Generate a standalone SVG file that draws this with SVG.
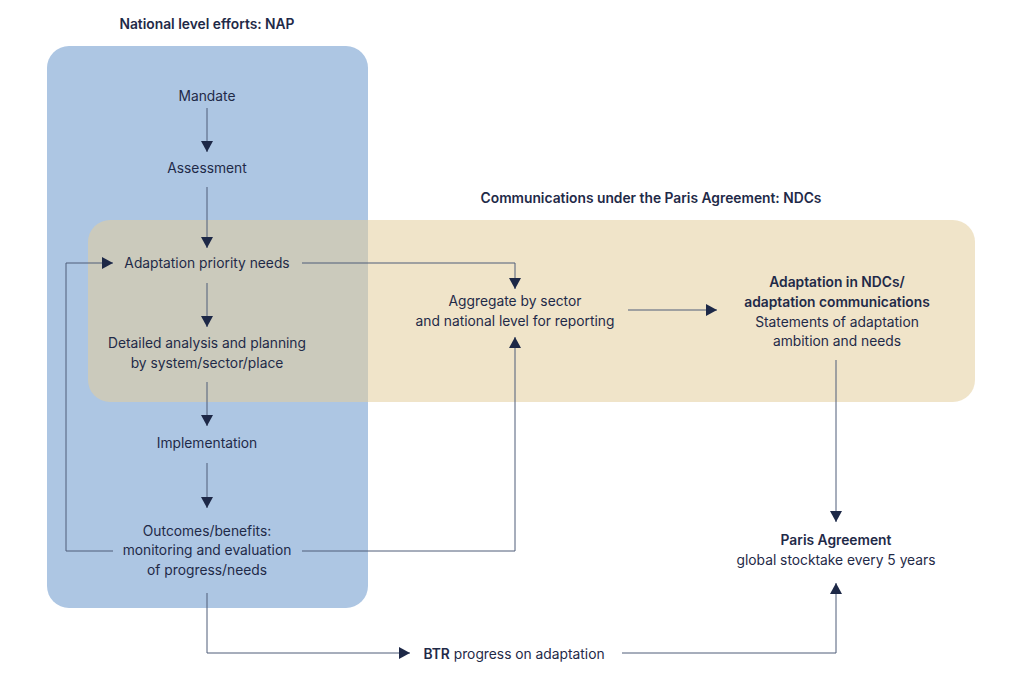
<svg xmlns="http://www.w3.org/2000/svg" width="1024" height="682" viewBox="0 0 1024 682">
<defs>
<marker id="ah" markerUnits="userSpaceOnUse" markerWidth="12" markerHeight="12" refX="11" refY="6" orient="auto">
<path d="M0,0 L11,6 L0,12 z" fill="#1d2847"/>
</marker>
<style>
text{font-family:Inter,"Noto Sans","Liberation Sans",sans-serif;font-size:13.8px;fill:#1f2a48;text-anchor:middle}
.b{font-weight:600}
.c{fill:none;stroke:#4f5d78;stroke-width:1}
.a{marker-end:url(#ah)}
</style>
</defs>
<rect width="1024" height="682" fill="#ffffff"/>
<g id="nap-region">
<rect x="47" y="46" width="321" height="562" rx="22" fill="#adc6e3"/>
<text class="b" x="207" y="29">National level efforts: NAP</text>
</g>
<g id="ndc-region">
<rect x="88" y="220" width="887" height="182" rx="22" fill="#e3cd9c" fill-opacity="0.55"/>
<text class="b" x="651" y="203">Communications under the Paris Agreement: NDCs</text>
</g>
<g id="connectors">
<path class="c a" d="M207,108 V152"/>
<path class="c a" d="M207,187 V248"/>
<path class="c a" d="M207,283 V327"/>
<path class="c a" d="M207,382 V426"/>
<path class="c a" d="M207,463 V508"/>
<path class="c a" d="M113,551 H66 V263 H113"/>
<path class="c a" d="M302,263 H515 V289"/>
<path class="c a" d="M302,551 H515 V337"/>
<path class="c a" d="M628,310 H717"/>
<path class="c a" d="M836,360 V522"/>
<path class="c a" d="M207,593 V653 H410"/>
<path class="c a" d="M622,653 H836 V583"/>
</g>
<g id="mandate"><text x="207" y="101">Mandate</text></g>
<g id="assessment"><text x="207" y="173">Assessment</text></g>
<g id="priority"><text x="207" y="268">Adaptation priority needs</text></g>
<g id="planning"><text x="207" y="348">Detailed analysis and planning</text><text x="207" y="368">by system/sector/place</text></g>
<g id="implementation"><text x="207" y="448">Implementation</text></g>
<g id="outcomes"><text x="207" y="536">Outcomes/benefits:</text><text x="207" y="555">monitoring and evaluation</text><text x="207" y="575">of progress/needs</text></g>
<g id="aggregate"><text x="515" y="306">Aggregate by sector</text><text x="515" y="326">and national level for reporting</text></g>
<g id="ndc"><text class="b" x="837" y="287">Adaptation in NDCs/</text><text class="b" x="837" y="307">adaptation communications</text><text x="837" y="327">Statements of adaptation</text><text x="837" y="346">ambition and needs</text></g>
<g id="paris"><text class="b" x="836" y="545">Paris Agreement</text><text x="836" y="565">global stocktake every 5 years</text></g>
<g id="btr"><text x="514" y="659"><tspan class="b">BTR</tspan> progress on adaptation</text></g>
</svg>
